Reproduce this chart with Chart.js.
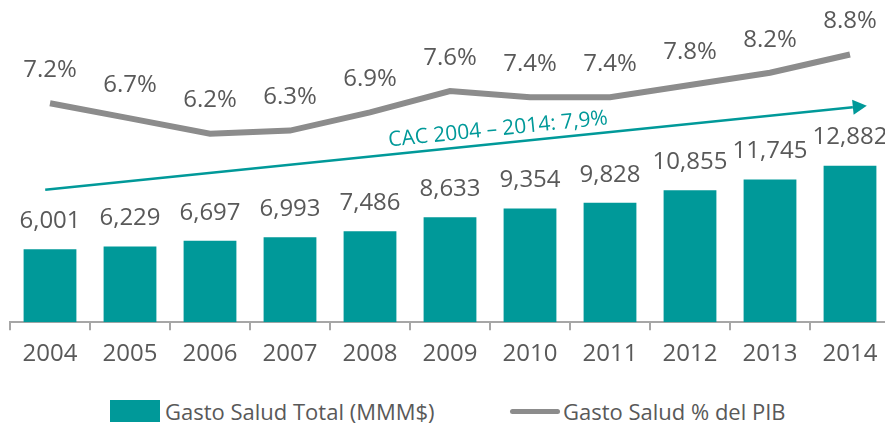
<!DOCTYPE html>
<html>
<head>
<meta charset="utf-8">
<script src="https://cdn.jsdelivr.net/npm/chart.js@4/dist/chart.umd.min.js"></script>
<style>
  html, body { margin: 0; padding: 0; background: #fff; overflow: hidden; }
  #wrap { position: relative; width: 885px; height: 425px; overflow: hidden; }
  #box { position: absolute; left: 0; top: 0; width: 895px; height: 380px; }
  .legend { position: absolute; top: 397px; font-family: 'Open Sans', sans-serif; font-size: 22px; color: #595959; line-height: 28px; }
  .sw-bar { position: absolute; left: 110px; top: 400px; width: 50px; height: 22px; background: #009999; }
  .sw-line { position: absolute; left: 510px; top: 409px; width: 50px; height: 5px; background: #8c8c8c; border-radius: 3px; }
</style>
</head>
<body>
<div id="wrap">
  <div id="box"><canvas id="chart"></canvas></div>
  <div class="sw-bar"></div>
  <div class="legend" style="left:165px">Gasto Salud Total (MMM$)</div>
  <div class="sw-line"></div>
  <div class="legend" style="left:563px">Gasto Salud % del PIB</div>
</div>
<script>
// Datos
const years = ['2004', '2005', '2006', '2007', '2008', '2009', '2010', '2011', '2012', '2013', '2014'];
const gastoTotal = [6001, 6229, 6697, 6993, 7486, 8633, 9354, 9828, 10855, 11745, 12882];
const gastoPib = [7.2, 6.7, 6.2, 6.3, 6.9, 7.6, 7.4, 7.4, 7.8, 8.2, 8.8];
const cacLabel = 'CAC 2004 \u2013 2014: 7,9%';
// flecha CAC en coordenadas de datos (índice categoría, valor eje barras)
const cacFrom = [-0.06, 10900];
const cacTo = [10.21, 17800];

const TEAL = '#009999';
const GREY = '#8c8c8c';
const TXT = '#595959';

// etiquetas de valores + flecha
const labelsPlugin = {
    id: 'labels',
    afterDatasetsDraw(chart) {
        const ctx = chart.ctx;
        ctx.save();
        ctx.font = "24px 'Open Sans'";
        ctx.fillStyle = TXT;
        ctx.textAlign = 'center';
        ctx.textBaseline = 'middle';
        // dataset 1 = barras, dataset 0 = línea
        chart.getDatasetMeta(1).data.forEach((el, i) => {
            ctx.fillText(gastoTotal[i].toLocaleString('en-US'), el.x, el.y - 28);
        });
        chart.getDatasetMeta(0).data.forEach((el, i) => {
            ctx.fillText(gastoPib[i].toFixed(1) + '%', el.x, el.y - 33);
        });

        // flecha
        const xs = chart.scales.x, ys = chart.scales.y;
        const x0 = xs.getPixelForValue(cacFrom[0]), y0 = ys.getPixelForValue(cacFrom[1]);
        const x1 = xs.getPixelForValue(cacTo[0]), y1 = ys.getPixelForValue(cacTo[1]);
        const ang = Math.atan2(y1 - y0, x1 - x0);
        const head = 14;
        ctx.strokeStyle = TEAL;
        ctx.fillStyle = TEAL;
        ctx.lineWidth = 2.5;
        ctx.beginPath();
        ctx.moveTo(x0, y0);
        ctx.lineTo(x1 - head * Math.cos(ang), y1 - head * Math.sin(ang));
        ctx.stroke();
        ctx.beginPath();
        ctx.moveTo(x1, y1);
        ctx.lineTo(x1 - head * Math.cos(ang) + 7.5 * Math.sin(ang), y1 - head * Math.sin(ang) - 7.5 * Math.cos(ang));
        ctx.lineTo(x1 - head * Math.cos(ang) - 7.5 * Math.sin(ang), y1 - head * Math.sin(ang) + 7.5 * Math.cos(ang));
        ctx.closePath();
        ctx.fill();

        const t = 0.553;
        const mx = x0 + (x1 - x0) * t, my = y0 + (y1 - y0) * t;
        ctx.translate(mx + 14 * Math.sin(ang), my - 14 * Math.cos(ang));
        ctx.rotate(ang);
        ctx.font = "21px 'Open Sans'";
        ctx.fillText(cacLabel, 0, 0);
        ctx.restore();
    }
};

new Chart(document.getElementById('chart'), {
    data: {
        labels: years,
        datasets: [
            {
                type: 'line',
                label: 'Gasto Salud % del PIB',
                data: gastoPib,
                yAxisID: 'y1',
                borderColor: GREY,
                borderWidth: 6,
                pointRadius: 0,
                tension: 0,
                order: 0
            },
            {
                type: 'bar',
                label: 'Gasto Salud Total (MMM$)',
                data: gastoTotal,
                yAxisID: 'y',
                backgroundColor: TEAL,
                categoryPercentage: 1,
                barPercentage: 0.66,
                order: 1
            }
        ]
    },
    options: {
        responsive: true,
        maintainAspectRatio: false,
        animation: false,
        layout: { padding: { top: 22, left: 10, right: 5, bottom: 1 } },
        plugins: {
            legend: { display: false },
            tooltip: { enabled: false }
        },
        scales: {
            x: {
                offset: true,
                border: { color: '#a6a6a6', width: 2 },
                grid: { offset: true, drawOnChartArea: false, drawTicks: true, tickLength: 8, color: '#a6a6a6', lineWidth: 2 },
                ticks: { color: TXT, font: { family: 'Open Sans', size: 24 }, padding: 10, maxRotation: 0 }
            },
            y: { display: false, min: 0, max: 24700 },
            y1: { display: false, min: 0, max: 9.87 }
        }
    },
    plugins: [labelsPlugin]
});
</script>
</body>
</html>
